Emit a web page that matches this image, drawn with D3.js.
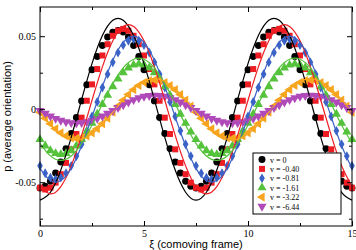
<!DOCTYPE html>
<html>
<head>
<meta charset="utf-8">
<script src="https://cdn.jsdelivr.net/npm/d3@7"></script>
<style>
  body { margin: 0; background: #fff; }
</style>
</head>
<body>
<svg id="chart" width="356" height="250"></svg>
<script>
// sample positions (comoving frame)
const xiData = [0,0.25,0.5,0.75,1,1.25,1.5,1.75,2,2.25,2.5,2.75,3,3.25,3.5,3.75,4,4.25,4.5,4.75,5,5.25,5.5,5.75,6,6.25,6.5,6.75,7,7.25,7.5,7.75,8,8.25,8.5,8.75,9,9.25,9.5,9.75,10,10.25,10.5,10.75,11,11.25,11.5,11.75,12,12.25,12.5,12.75,13,13.25,13.5,13.75,14,14.25,14.5,14.75,15];
const xiFit = [0,0.5,1,1.5,2,2.5,3,3.5,4,4.5,5,5.5,6,6.5,7,7.5,8,8.5,9,9.5,10,10.5,11,11.5,12,12.5,13,13.5,14,14.5,15];

// simulation points
const dataV0 = [-0.054,-0.0528,-0.0494,-0.0437,-0.0361,-0.027,-0.0167,-0.0057,0.0057,0.0167,0.027,0.0361,0.0437,0.0494,0.0528,0.054,0.0528,0.0494,0.0437,0.0361,0.027,0.0167,0.0057,-0.0057,-0.0167,-0.027,-0.0361,-0.0437,-0.0494,-0.0528,
  -0.054,-0.0528,-0.0494,-0.0437,-0.0361,-0.027,-0.0167,-0.0057,0.0057,0.0167,0.027,0.0361,0.0437,0.0494,0.0528,0.054,0.0528,0.0494,0.0437,0.0361,0.027,0.0167,0.0057,-0.0057,-0.0167,-0.027,-0.0361,-0.0437,-0.0494,-0.0528,-0.054];
const dataV040 = [-0.0538,-0.055,-0.0538,-0.0503,-0.0445,-0.0368,-0.0275,-0.017,-0.0058,0.0058,0.017,0.0275,0.0368,0.0445,0.0503,0.0538,0.055,0.0538,0.0503,0.0445,0.0368,0.0275,0.017,0.0058,-0.0058,-0.017,-0.0275,-0.0368,-0.0445,-0.0503,
  -0.0538,-0.055,-0.0538,-0.0503,-0.0445,-0.0368,-0.0275,-0.017,-0.0058,0.0058,0.017,0.0275,0.0368,0.0445,0.0503,0.0538,0.055,0.0538,0.0503,0.0445,0.0368,0.0275,0.017,0.0058,-0.0058,-0.017,-0.0275,-0.0368,-0.0445,-0.0503,-0.0538];
const dataV081 = [-0.0388,-0.0439,-0.0469,-0.048,-0.0469,-0.0439,-0.0388,-0.0321,-0.024,-0.0148,-0.005,0.005,0.0148,0.024,0.0321,0.0388,0.0439,0.0469,0.048,0.0469,0.0439,0.0388,0.0321,0.024,0.0148,0.005,-0.005,-0.0148,-0.024,-0.0321,
  -0.0388,-0.0439,-0.0469,-0.048,-0.0469,-0.0439,-0.0388,-0.0321,-0.024,-0.0148,-0.005,0.005,0.0148,0.024,0.0321,0.0388,0.0439,0.0469,0.048,0.0469,0.0439,0.0388,0.0321,0.024,0.0148,0.005,-0.005,-0.0148,-0.024,-0.0321,-0.0388];
const dataV161 = [-0.0207,-0.0251,-0.0283,-0.0303,-0.031,-0.0303,-0.0283,-0.0251,-0.0207,-0.0155,-0.0096,-0.0033,0.0033,0.0096,0.0155,0.0207,0.0251,0.0283,0.0303,0.031,0.0303,0.0283,0.0251,0.0207,0.0155,0.0096,0.0033,-0.0033,-0.0096,-0.0155,
  -0.0207,-0.0251,-0.0283,-0.0303,-0.031,-0.0303,-0.0283,-0.0251,-0.0207,-0.0155,-0.0096,-0.0033,0.0033,0.0096,0.0155,0.0207,0.0251,0.0283,0.0303,0.031,0.0303,0.0283,0.0251,0.0207,0.0155,0.0096,0.0033,-0.0033,-0.0096,-0.0155,-0.0207];
const dataV322 = [-0.0021,-0.0062,-0.01,-0.0134,-0.0162,-0.0183,-0.0196,-0.02,-0.0196,-0.0183,-0.0162,-0.0134,-0.01,-0.0062,-0.0021,0.0021,0.0062,0.01,0.0134,0.0162,0.0183,0.0196,0.02,0.0196,0.0183,0.0162,0.0134,0.01,0.0062,0.0021,
  -0.0021,-0.0062,-0.01,-0.0134,-0.0162,-0.0183,-0.0196,-0.02,-0.0196,-0.0183,-0.0162,-0.0134,-0.01,-0.0062,-0.0021,0.0021,0.0062,0.01,0.0134,0.0162,0.0183,0.0196,0.02,0.0196,0.0183,0.0162,0.0134,0.01,0.0062,0.0021,-0.0021];
const dataV644 = [-0.001,-0.0029,-0.0048,-0.0064,-0.0077,-0.0087,-0.0093,-0.0095,-0.0093,-0.0087,-0.0077,-0.0064,-0.0048,-0.0029,-0.001,0.001,0.0029,0.0048,0.0064,0.0077,0.0087,0.0093,0.0095,0.0093,0.0087,0.0077,0.0064,0.0048,0.0029,0.001,
  -0.001,-0.0029,-0.0048,-0.0064,-0.0077,-0.0087,-0.0093,-0.0095,-0.0093,-0.0087,-0.0077,-0.0064,-0.0048,-0.0029,-0.001,0.001,0.0029,0.0048,0.0064,0.0077,0.0087,0.0093,0.0095,0.0093,0.0087,0.0077,0.0064,0.0048,0.0029,0.001,-0.001];

// theory curves
const fitV0 = [-0.0623,-0.0569,-0.0417,-0.0193,0.0065,0.0312,0.0504,0.0609,0.0609,0.0504,0.0312,0.0065,-0.0193,-0.0417,-0.0569,
  -0.0623,-0.0569,-0.0417,-0.0193,0.0065,0.0312,0.0504,0.0609,0.0609,0.0504,0.0312,0.0065,-0.0193,-0.0417,-0.0569,-0.0623];
const fitV040 = [-0.053,-0.058,-0.053,-0.0388,-0.0179,0.0061,0.029,0.0469,0.0567,0.0567,0.0469,0.029,0.0061,-0.0179,-0.0388,
  -0.053,-0.058,-0.053,-0.0388,-0.0179,0.0061,0.029,0.0469,0.0567,0.0567,0.0469,0.029,0.0061,-0.0179,-0.0388,-0.053];
const fitV081 = [-0.0405,-0.0489,-0.0489,-0.0405,-0.025,-0.0053,0.0155,0.0335,0.0457,0.05,0.0457,0.0335,0.0155,-0.0053,-0.025,
  -0.0405,-0.0489,-0.0489,-0.0405,-0.025,-0.0053,0.0155,0.0335,0.0457,0.05,0.0457,0.0335,0.0155,-0.0053,-0.025,-0.0405];
const fitV161 = [-0.0234,-0.032,-0.035,-0.032,-0.0234,-0.0108,0.0037,0.0175,0.0283,0.0342,0.0342,0.0283,0.0175,0.0037,-0.0108,
  -0.0234,-0.032,-0.035,-0.032,-0.0234,-0.0108,0.0037,0.0175,0.0283,0.0342,0.0342,0.0283,0.0175,0.0037,-0.0108,-0.0234];
const fitV322 = [-0.0022,-0.0105,-0.017,-0.0205,-0.0205,-0.017,-0.0105,-0.0022,0.0065,0.014,0.0192,0.021,0.0192,0.014,0.0065,
  -0.0022,-0.0105,-0.017,-0.0205,-0.0205,-0.017,-0.0105,-0.0022,0.0065,0.014,0.0192,0.021,0.0192,0.014,0.0065,-0.0022];
const fitV644 = [-0.0009,-0.0045,-0.0073,-0.0088,-0.0088,-0.0073,-0.0045,-0.0009,0.0028,0.006,0.0082,0.009,0.0082,0.006,0.0028,
  -0.0009,-0.0045,-0.0073,-0.0088,-0.0088,-0.0073,-0.0045,-0.0009,0.0028,0.006,0.0082,0.009,0.0082,0.006,0.0028,-0.0009];

const labels = ["v = 0", "v = -0.40", "v = -0.81", "v = -1.61", "v = -3.22", "v = -6.44"];
const xTicks = [0, 5, 10, 15];
const xMinor = [2.5, 7.5, 12.5];
const yTicks = [-0.05, 0, 0.05];
const yMinor = [-0.075, -0.025, 0.025];

const series = [
  {label: labels[0], color: "#000000", sym: d3.symbolCircle,   size: 38, rot: 0,   data: dataV0,   fit: fitV0},
  {label: labels[1], color: "#ee1d23", sym: d3.symbolSquare,   size: 36, rot: 0,   data: dataV040, fit: fitV040},
  {label: labels[2], color: "#3b62c6", sym: d3.symbolDiamond,  size: 28, rot: 0,   data: dataV081, fit: fitV081},
  {label: labels[3], color: "#55c23c", sym: d3.symbolTriangle, size: 36, rot: 0,   data: dataV161, fit: fitV161},
  {label: labels[4], color: "#f7a51e", sym: d3.symbolTriangle, size: 36, rot: -90, data: dataV322, fit: fitV322},
  {label: labels[5], color: "#b04ab9", sym: d3.symbolTriangle, size: 36, rot: 180, data: dataV644, fit: fitV644}
];

const svg = d3.select("#chart");
const pLeft = 40, pRight = 352, pTop = 7, pBottom = 226;

const x = d3.scaleLinear().domain([0, 15]).range([pLeft, pRight]);
const y = d3.scaleLinear().domain([-0.08, 0.07]).range([pBottom, pTop]);

const fmt = d => d === 0 ? "0" : d3.format(".2f")(d).replace("\u2212", "-");
const serif = "'Liberation Serif', 'Times New Roman', serif";
const sans = "'Liberation Sans', Arial, Helvetica, sans-serif";

// markers
series.forEach(s => {
  svg.append("g").selectAll("path")
    .data(s.data)
    .join("path")
    .attr("d", d3.symbol().type(s.sym).size(s.size))
    .attr("transform", (d, i) => `translate(${x(xiData[i])},${y(d)}) rotate(${s.rot})`)
    .attr("fill", s.color);
});

// theory lines
const line = d3.line()
  .x((d, i) => x(xiFit[i]))
  .y(d => y(d))
  .curve(d3.curveNatural);

series.forEach(s => {
  svg.append("path")
    .attr("d", line(s.fit))
    .attr("fill", "none")
    .attr("stroke", s.color)
    .attr("stroke-width", 1.2);
});

// frame
svg.append("rect")
  .attr("x", pLeft).attr("y", pTop)
  .attr("width", pRight - pLeft).attr("height", pBottom - pTop)
  .attr("fill", "none").attr("stroke", "#000").attr("stroke-width", 1);

// axes, ticks inward on all four sides
function axisGroup(axis, tx, ty) {
  const g = svg.append("g").attr("transform", `translate(${tx},${ty})`).call(axis);
  g.select(".domain").remove();
  g.attr("font-family", serif).attr("font-size", 10);
  g.selectAll("text").attr("fill", "#000");
  return g;
}
axisGroup(d3.axisBottom(x).tickValues(xTicks).tickSize(-5).tickPadding(4), 0, pBottom);
axisGroup(d3.axisBottom(x).tickValues(xMinor).tickSize(-3).tickFormat(""), 0, pBottom);
axisGroup(d3.axisTop(x).tickValues(xTicks).tickSize(-5).tickFormat(""), 0, pTop);
axisGroup(d3.axisTop(x).tickValues(xMinor).tickSize(-3).tickFormat(""), 0, pTop);
axisGroup(d3.axisLeft(y).tickValues(yTicks).tickSize(-5).tickPadding(4).tickFormat(fmt), pLeft, 0);
axisGroup(d3.axisLeft(y).tickValues(yMinor).tickSize(-3).tickFormat(""), pLeft, 0);
axisGroup(d3.axisRight(y).tickValues(yTicks).tickSize(-5).tickFormat(""), pRight, 0);
axisGroup(d3.axisRight(y).tickValues(yMinor).tickSize(-3).tickFormat(""), pRight, 0);

// axis titles
svg.append("text")
  .attr("x", (pLeft + pRight) / 2).attr("y", 248)
  .attr("text-anchor", "middle")
  .attr("font-family", sans).attr("font-size", 11)
  .text("\u03BE (comoving frame)");

svg.append("text")
  .attr("transform", `translate(11,${(pTop + pBottom) / 2}) rotate(-90)`)
  .attr("text-anchor", "middle")
  .attr("font-family", sans).attr("font-size", 11)
  .text("p (average orientation)");

// legend
const lg = svg.append("g").attr("transform", "translate(253,153)");
lg.append("rect")
  .attr("width", 88).attr("height", 61)
  .attr("fill", "#fff").attr("stroke", "#000").attr("stroke-width", 1);
series.forEach((s, i) => {
  const row = lg.append("g").attr("transform", `translate(0,${6.5 + i * 9.4})`);
  row.append("path")
    .attr("d", d3.symbol().type(s.sym).size(s.size))
    .attr("transform", `translate(9,0) rotate(${s.rot})`)
    .attr("fill", s.color);
  row.append("text")
    .attr("x", 17).attr("y", 3)
    .attr("font-family", serif).attr("font-size", 8)
    .text(s.label);
});
</script>
</body>
</html>
